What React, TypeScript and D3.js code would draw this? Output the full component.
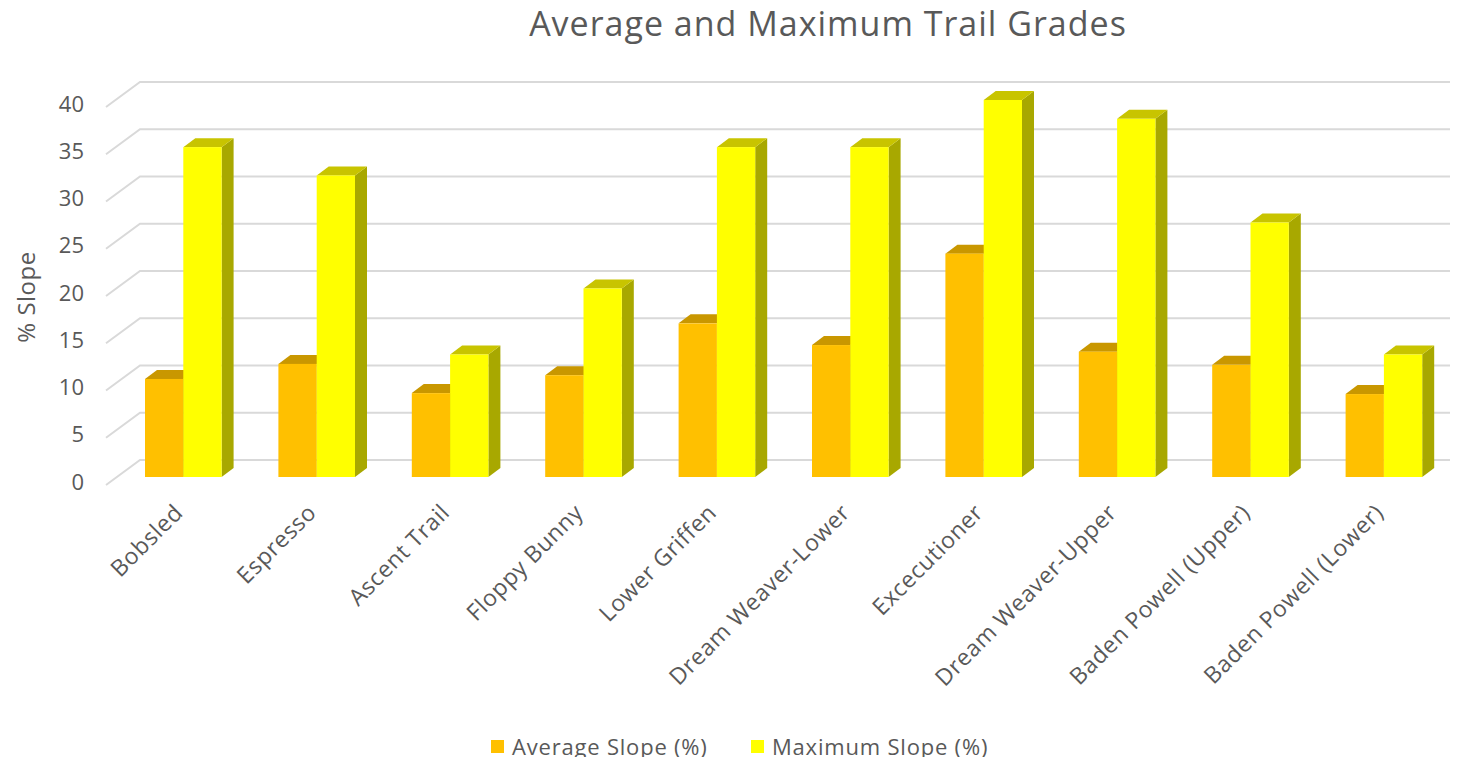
import React from 'react';
import * as d3 from 'd3';

const categories = [
  'Bobsled',
  'Espresso',
  'Ascent Trail',
  'Floppy Bunny',
  'Lower Griffen',
  'Dream Weaver-Lower',
  'Excecutioner',
  'Dream Weaver-Upper',
  'Baden Powell (Upper)',
  'Baden Powell (Lower)',
];
const averageSlope = [10.4, 12.0, 8.9, 10.8, 16.3, 14.0, 23.7, 13.3, 11.9, 8.8];
const maximumSlope = [35, 32, 13, 20, 35, 35, 40, 38, 27, 13];
const seriesNames = ['Average Slope (%)', 'Maximum Slope (%)'];
const yTicks = [0, 5, 10, 15, 20, 25, 30, 35, 40];

const W = 1458;
const H = 765;
const FONT = '"Open Sans", "Noto Sans", sans-serif';
const TEXT = '#595959';

// colours: front, top, side
const palette = [
  { front: '#FFC000', top: '#C99700', side: '#A07800' },
  { front: '#FFFF00', top: '#C8C400', side: '#A8A800' },
];

const App: React.FC = () => {
  // bar front faces sit on this baseline
  const y = d3.scaleLinear().domain([0, 40]).range([477, 100]);
  // wall gridlines: front edge and back edge
  const gFront = d3.scaleLinear().domain([0, 40]).range([485, 107]);
  const gBack = d3.scaleLinear().domain([0, 40]).range([460, 82]);
  const wallFrontX = 106;
  const wallBackX = 140;
  const wallRight = 1455;

  const x0 = d3.scaleBand<string>().domain(categories).range([116.6, 1450.6]);
  const groupW = 76.6;
  const x1 = d3.scaleBand<number>().domain([0, 1]).range([0, groupW]);
  const dx = 12;
  const dy = 9;

  const series = [averageSlope, maximumSlope];

  return (
    <svg width={W} height={H} style={{ display: 'block', margin: '-8px' }} fontFamily={FONT}>
      <rect width={W} height={H} fill="#fff" />
      <text x={828} y={36} textAnchor="middle" fontSize={34} letterSpacing={1} fill={TEXT}>
        Average and Maximum Trail Grades
      </text>

      {/* gridlines */}
      {yTicks.map(t => (
        <g key={t}>
          <polyline
            points={`${wallFrontX},${gFront(t)} ${wallBackX},${gBack(t)} ${wallRight},${gBack(t)}`}
            fill="none"
            stroke="#D9D9D9"
            strokeWidth={2}
          />
          <text x={84} y={gFront(t) - 3} dy="0.35em" textAnchor="end" fontSize={22} fill={TEXT}>
            {t}
          </text>
        </g>
      ))}

      <text
        transform={`translate(35, 297) rotate(-90)`}
        textAnchor="middle"
        fontSize={24}
        letterSpacing={0.5}
        fill={TEXT}
      >
        % Slope
      </text>

      {/* bars */}
      {categories.map((c, i) => {
        const gx = (x0(c) as number) + (x0.bandwidth() - groupW) / 2;
        return (
          <g key={c}>
            {series.map((vals, s) => {
              const bx = gx + (x1(s) as number);
              const bw = x1.bandwidth();
              const top = y(vals[i]);
              const base = y(0);
              const col = palette[s];
              return (
                <g key={s}>
                  <polygon
                    points={`${bx + bw},${top} ${bx + bw + dx},${top - dy} ${bx + bw + dx},${base - dy} ${bx + bw},${base}`}
                    fill={col.side}
                  />
                  <polygon
                    points={`${bx},${top} ${bx + bw},${top} ${bx + bw + dx},${top - dy} ${bx + dx},${top - dy}`}
                    fill={col.top}
                  />
                  <rect x={bx} y={top} width={bw} height={base - top} fill={col.front} />
                </g>
              );
            })}
          </g>
        );
      })}

      {/* category labels */}
      {categories.map(c => {
        const cx = (x0(c) as number) + x0.bandwidth() / 2;
        return (
          <text
            key={c}
            transform={`translate(${cx + 1}, ${514}) rotate(-45)`}
            textAnchor="end"
            fontSize={23}
            letterSpacing={0.6}
            fill={TEXT}
          >
            {c}
          </text>
        );
      })}

      {/* legend */}
      {seriesNames.map((n, s) => {
        const lx = s === 0 ? 491 : 751;
        return (
          <g key={n} transform={`translate(${lx}, 740)`}>
            <rect width={13} height={13} fill={palette[s].front} />
            <text x={21} y={7} dy="0.36em" fontSize={22} letterSpacing={0.8} fill={TEXT}>
              {n}
            </text>
          </g>
        );
      })}
    </svg>
  );
};

export default App;
